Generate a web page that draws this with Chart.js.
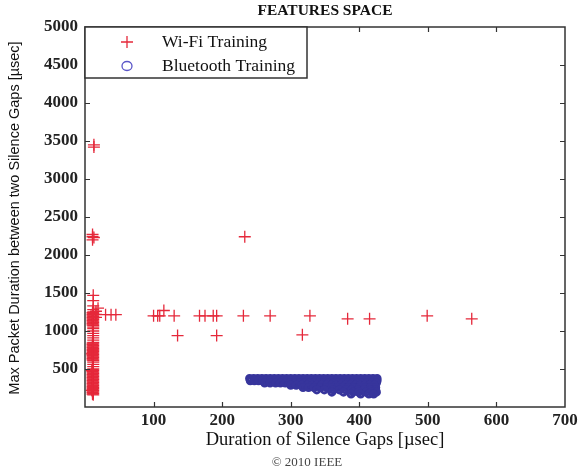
<!DOCTYPE html>
<html>
<head>
<meta charset="utf-8">
<script src="https://cdn.jsdelivr.net/npm/chart.js@4/dist/chart.umd.min.js"></script>
<style>
  html, body { margin: 0; padding: 0; background: #fff; }
  canvas { display: block; }
</style>
</head>
<body>
<canvas id="chart" width="579" height="475"></canvas>
<script>
// tick values
const xTicks = [100, 200, 300, 400, 500, 600];
const yTicks = [500, 1000, 1500, 2000, 2500, 3000, 3500, 4000, 4500];

// Wi-Fi training: the dense column next to the y axis (x ~ 10-20)
const wifiColX = [
  12, 12, 12, 12, 12, 12, 12, 12, 12, 12, 12, 12, 12, 12, 12, 12, 12, 12,
  11, 11, 11, 11, 11, 11, 11, 11, 11, 11, 11, 11, 11, 11, 11, 11, 11,
  12, 12, 12,
  12, 12, 12, 12, 12, 12, 12, 12, 12, 12, 12, 12, 12,
  11, 11, 11, 11, 11, 11, 11, 11, 11, 11, 11, 11,
  12, 12, 12, 12, 12, 12, 12,
  12, 12, 12, 12, 12, 12, 12, 12, 12, 12,
  11, 11, 11, 11, 11, 11, 11, 11, 11,
  12, 12, 12, 12,
  10, 10, 10, 16, 16, 16, 19,
  11, 11, 11, 13, 13, 13
];
const wifiColY = [
  160, 180, 200, 220, 240, 260, 280, 300, 320, 340, 360, 380, 400, 420, 440, 460, 480, 500,
  170, 190, 210, 230, 250, 270, 290, 310, 330, 350, 370, 390, 410, 430, 450, 470, 490,
  530, 560, 590,
  610, 630, 650, 670, 690, 710, 730, 750, 770, 790, 810, 830, 850,
  620, 640, 660, 680, 700, 720, 740, 760, 780, 800, 820, 840,
  880, 910, 940, 970, 1000, 1030, 1050,
  1070, 1090, 1110, 1130, 1150, 1170, 1190, 1210, 1230, 1250,
  1080, 1100, 1120, 1140, 1160, 1180, 1200, 1220, 1240,
  1280, 1330, 1400, 1470,
  220, 480, 700, 1180, 1220, 1260, 1300,
  2200, 2240, 2270, 2230, 3420, 3450
];

// Wi-Fi training: the scattered points further right
const wifiX = [30, 38, 45, 100, 106, 109, 115, 130, 167, 175, 187, 192, 231, 270, 328, 383, 415, 499, 564, 135, 192, 317, 233];
const wifiY = [1215, 1215, 1215, 1200, 1200, 1200, 1270, 1200, 1200, 1200, 1200, 1200, 1200, 1200, 1200, 1160, 1160, 1200, 1160, 940, 940, 950, 2240];

// Bluetooth training points, one row of x positions per y level
const btRowY = [375, 345, 315, 285, 255, 225, 195, 170];
const btRow375X = [240, 246, 252, 258, 264, 270, 276, 282, 288, 294, 300, 306, 312, 318, 324, 330, 336, 342, 348, 354, 360, 366, 372, 378, 384, 390, 396, 402, 408, 414, 420, 426];
const btRow345X = [241, 247, 253, 259, 265, 271, 277, 283, 289, 295, 301, 307, 313, 319, 325, 331, 337, 343, 349, 355, 361, 367, 373, 379, 385, 391, 397, 403, 409, 415, 421, 426];
const btRow315X = [262, 270, 278, 285, 292, 299, 306, 313, 320, 327, 334, 341, 348, 355, 362, 369, 376, 383, 390, 397, 404, 411, 418, 425];
const btRow285X = [300, 308, 316, 324, 331, 338, 345, 352, 359, 366, 373, 380, 387, 394, 401, 408, 415, 422];
const btRow255X = [318, 326, 334, 343, 352, 360, 368, 376, 384, 392, 400, 408, 416, 424];
const btRow225X = [338, 349, 362, 371, 380, 389, 398, 407, 416, 424];
const btRow195X = [360, 377, 391, 399, 410, 418, 425];
const btRow170X = [388, 402, 414, 421];
const btRows = [btRow375X, btRow345X, btRow315X, btRow285X, btRow255X, btRow225X, btRow195X, btRow170X];

const wifiColor = '#e5283a';
const btColor = '#37359c';
const SERIF = '"Liberation Serif", "Times New Roman", serif';

const wifiData = wifiColX.map((x, i) => ({ x: x, y: wifiColY[i] }))
  .concat(wifiX.map((x, i) => ({ x: x, y: wifiY[i] })));
const btData = [];
btRows.forEach((row, r) => row.forEach(x => btData.push({ x: x, y: btRowY[r] })));

// frame, inward ticks, titles and legend in MATLAB style
const decor = {
  id: 'decor',
  afterDraw(chart) {
    const ctx = chart.ctx;
    const a = chart.chartArea;
    const xs = chart.scales.x, ys = chart.scales.y;
    ctx.save();
    ctx.strokeStyle = '#333';
    ctx.lineWidth = 1.5;
    ctx.strokeRect(a.left, a.top, a.right - a.left, a.bottom - a.top);

    ctx.lineWidth = 1.2;
    ctx.beginPath();
    for (const v of xTicks) {
      const px = Math.round(xs.getPixelForValue(v)) + 0.5;
      ctx.moveTo(px, a.bottom); ctx.lineTo(px, a.bottom - 5);
      ctx.moveTo(px, a.top); ctx.lineTo(px, a.top + 5);
    }
    for (const v of yTicks) {
      const py = Math.round(ys.getPixelForValue(v)) + 0.5;
      ctx.moveTo(a.left, py); ctx.lineTo(a.left + 5, py);
      ctx.moveTo(a.right, py); ctx.lineTo(a.right - 5, py);
    }
    ctx.stroke();

    // legend box
    ctx.fillStyle = '#fff';
    ctx.fillRect(a.left, a.top, 222, 51);
    ctx.lineWidth = 1.5;
    ctx.strokeStyle = '#333';
    ctx.strokeRect(a.left, a.top, 222, 51);
    ctx.strokeStyle = wifiColor;
    ctx.lineWidth = 1.3;
    ctx.beginPath();
    ctx.moveTo(a.left + 36, a.top + 15); ctx.lineTo(a.left + 48, a.top + 15);
    ctx.moveTo(a.left + 42, a.top + 9); ctx.lineTo(a.left + 42, a.top + 21);
    ctx.stroke();
    ctx.strokeStyle = '#5a55c8';
    ctx.beginPath();
    ctx.ellipse(a.left + 42, a.top + 39, 5, 4.5, 0, 0, Math.PI * 2);
    ctx.stroke();
    ctx.fillStyle = '#111';
    ctx.font = '17.5px ' + SERIF;
    ctx.textAlign = 'left';
    ctx.textBaseline = 'middle';
    ctx.fillText('Wi-Fi Training', a.left + 77, a.top + 15);
    ctx.fillText('Bluetooth Training', a.left + 77, a.top + 39);

    // titles
    const cx = (a.left + a.right) / 2;
    ctx.textAlign = 'center';
    ctx.font = 'bold 15.5px ' + SERIF;
    ctx.fillText('FEATURES SPACE', cx, 11);
    ctx.font = '18.5px ' + SERIF;
    ctx.fillText('Duration of Silence Gaps [\u00b5sec]', cx, 440);
    ctx.fillStyle = '#444';
    ctx.font = '13px ' + SERIF;
    ctx.fillText('\u00a9 2010 IEEE', 307, 463);

    ctx.fillStyle = '#111';
    ctx.font = '14.5px "Liberation Sans", Arial, sans-serif';
    ctx.translate(15, (a.top + a.bottom) / 2 + 1);
    ctx.rotate(-Math.PI / 2);
    ctx.fillText('Max Packet Duration between two Silence Gaps [\u00b5sec]', 0, 0);
    ctx.restore();
  }
};

new Chart(document.getElementById('chart'), {
  type: 'scatter',
  data: {
    datasets: [
      {
        label: 'Wi-Fi Training',
        data: wifiData,
        pointStyle: 'cross',
        pointRadius: 6,
        borderColor: wifiColor,
        backgroundColor: wifiColor,
        borderWidth: 1.3
      },
      {
        label: 'Bluetooth Training',
        data: btData,
        pointStyle: 'circle',
        pointRadius: 3,
        borderColor: btColor,
        backgroundColor: 'rgba(0,0,0,0)',
        borderWidth: 3
      }
    ]
  },
  options: {
    responsive: false,
    animation: false,
    layout: { padding: { top: 27, right: 0, left: 0, bottom: 0 } },
    plugins: {
      legend: { display: false },
      title: { display: false },
      tooltip: { enabled: false }
    },
    scales: {
      x: {
        type: 'linear',
        min: 0,
        max: 700,
        afterFit: (s) => { s.height = 68; s.paddingRight = 14; s.paddingLeft = 0; },
        grid: { display: false, drawTicks: false },
        border: { display: false },
        ticks: {
          stepSize: 100,
          padding: 3,
          color: '#222',
          font: { family: SERIF, size: 17, weight: 'bold' },
          callback: (v) => (v === 0 ? '' : v)
        }
      },
      y: {
        type: 'linear',
        min: 0,
        max: 5000,
        afterFit: (s) => { s.width = 85; },
        grid: { display: false, drawTicks: false },
        border: { display: false },
        ticks: {
          stepSize: 500,
          padding: 7,
          color: '#222',
          font: { family: SERIF, size: 17, weight: 'bold' },
          callback: (v) => (v === 0 ? '' : v)
        }
      }
    }
  },
  plugins: [decor]
});
</script>
</body>
</html>
